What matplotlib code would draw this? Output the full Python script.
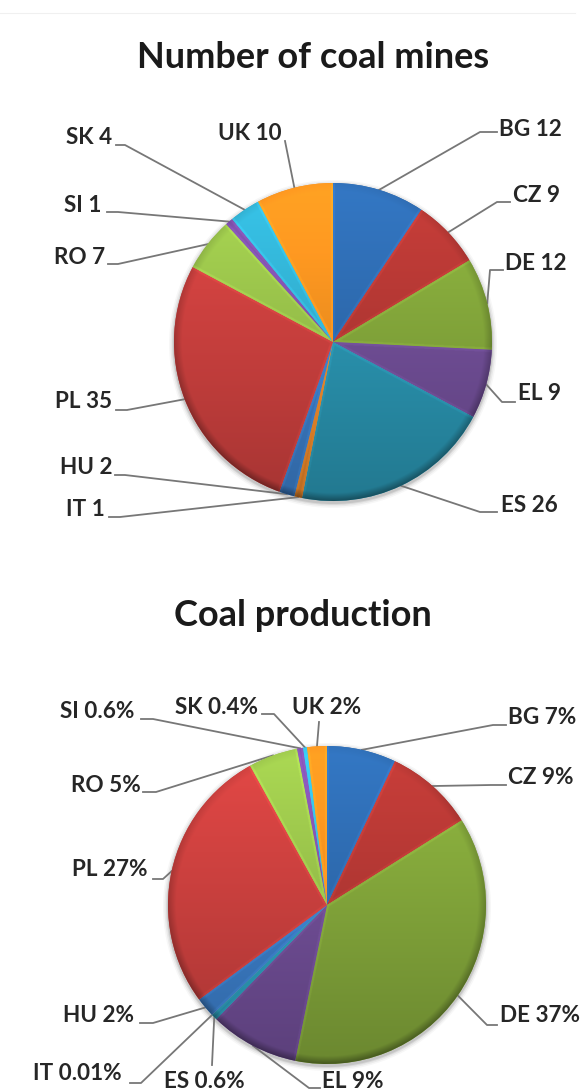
import numpy as np
import matplotlib
matplotlib.use('Agg')
import matplotlib.pyplot as plt
from matplotlib.colors import to_rgb

W, H = 582, 1091

countries = ['BG', 'CZ', 'DE', 'EL', 'ES', 'IT', 'HU', 'PL', 'RO', 'SI', 'SK', 'UK']
mines = [12, 9, 12, 9, 26, 1, 2, 35, 7, 1, 4, 10]
production = [7, 9, 37, 9, 0.6, 0.01, 2, 27, 5, 0.6, 0.4, 2]
mine_labels = ['BG 12', 'CZ 9', 'DE 12', 'EL 9', 'ES 26', 'IT 1', 'HU 2', 'PL 35', 'RO 7', 'SI 1', 'SK 4', 'UK 10']
prod_labels = ['BG 7%', 'CZ 9%', 'DE 37%', 'EL 9%', 'ES 0.6%', 'IT 0.01%', 'HU 2%', 'PL 27%', 'RO 5%', 'SI 0.6%', 'SK 0.4%', 'UK 2%']
colors = ['#2f6db3', '#b83935', '#86aa3c', '#73509a', '#2b97b4', '#e8862a',
          '#3d80cc', '#d04240', '#9cc64c', '#7d4fa8', '#33b4d6', '#f79420']

# label left edge and centre, then the leader's end and knee, in picture pixels (y down)
mine_text = [(499, 129), (513, 196), (505, 263), (518, 394), (501, 505), (66, 510),
             (60, 468), (55, 402), (54, 257), (64, 205), (66, 138), (218, 133)]
mine_lead = [((497, 132), (480, 132)), ((510, 202), (497, 202)), ((503, 270), (490, 270)),
             ((515, 402), (502, 402)), ((497, 512), (480, 512)), ((109, 517), (120, 517)),
             ((115, 475), (125, 475)), ((116, 410), (127, 410)), ((108, 264), (118, 264)),
             ((107, 212), (118, 212)), ((116, 145), (125, 145)), ((285, 141), (285, 141))]
prod_text = [(508, 717), (508, 777), (500, 1016), (322, 1082), (164, 1082), (33, 1074),
             (63, 1015), (72, 870), (71, 785), (60, 712), (175, 707), (292, 707)]
prod_lead = [((506, 725), (493, 725)), ((506, 785), (491, 785)), ((497, 1025), (487, 1025)),
             ((320, 1088), (309, 1088)), ((212, 1065), (212, 1065)), ((130, 1083), (141, 1083)),
             ((140, 1023), (153, 1023)), ((153, 879), (163, 879)), ((143, 792), (156, 792)),
             ((141, 719), (153, 719)), ((262, 714), (274, 714)), ((319, 722), (319, 722))]

plt.rcParams['font.family'] = ['Lato', 'DejaVu Sans']
fig = plt.figure(figsize=(W / 100, H / 100), dpi=100)
ax = fig.add_axes([0, 0, 1, 1])


def slice_image(color, r_grid, a_grid, y_grid, a0, a1):
    # vertical light falloff, a bevel along the slice edges and a dark outer rim
    base = np.array(to_rgb(color))
    shade = 1.1 - 0.3 * (y_grid + 1) / 2
    to_edge = r_grid * np.sin(np.clip(np.minimum(a_grid - a0, a1 - a_grid), 0, np.pi / 2))
    shade = np.where(to_edge < 0.014, shade * 1.07, shade)
    rim = np.clip((r_grid - 0.95) / 0.05, 0, 1)
    shade = shade * (1 - rim * (0.05 + 0.3 * (y_grid + 1) / 2))
    return np.clip(base[None, None, :] * shade[:, :, None], 0, 1)


def draw(cx, cy, r, values, labels, text_pos, leads):
    cy_up = H - cy
    # soft shadow under the disc
    for grow, alpha in [(5, 0.03), (3.5, 0.05), (2, 0.07), (1, 0.09)]:
        ax.add_patch(plt.Circle((cx, cy_up - 2), r + grow, color='black', alpha=alpha, lw=0, zorder=1))
    wedges, _ = ax.pie(values, colors=colors, startangle=90, counterclock=False,
                       center=(cx, cy_up), radius=r, frame=True, normalize=True,
                       wedgeprops=dict(linewidth=0, zorder=2))
    vals = np.array(values, dtype=float)
    ends = np.cumsum(vals) / vals.sum() * 2 * np.pi
    starts = np.concatenate([[0], ends[:-1]])
    yy, xx = np.mgrid[-1:1:640j, -1:1:640j]
    rr = np.hypot(xx, yy)
    aa = np.arctan2(xx, -yy) % (2 * np.pi)
    for i, wedge in enumerate(wedges):
        im = ax.imshow(slice_image(colors[i], rr, aa, yy, starts[i], ends[i]),
                       extent=(cx - r, cx + r, cy_up - r, cy_up + r), origin='upper',
                       zorder=3, interpolation='bilinear', aspect='auto')
        im.set_clip_path(wedge)
        # leader from the middle of the slice's arc
        mid = (starts[i] + ends[i]) / 2
        ex, ey = cx + r * np.sin(mid), cy_up + r * np.cos(mid)
        end, knee = leads[i]
        ax.plot([ex, knee[0], end[0]], [ey, H - knee[1], H - end[1]], color='#777777', lw=1.3, zorder=1.5)
        ax.text(text_pos[i][0], H - text_pos[i][1], labels[i], fontsize=16.2, fontweight='bold',
                color='#262626', ha='left', va='center', zorder=5)


draw(333, 342, 159, mines, mine_labels, mine_text, mine_lead)
draw(327, 905, 159, production, prod_labels, prod_text, prod_lead)

ax.set_xlim(0, W)
ax.set_ylim(0, H)
ax.axis('off')
ax.plot([0, 575], [H - 13, H - 13], color='#f0f0f0', lw=0.8)
ax.text(313, H - 58, 'Number of coal mines', fontsize=26, fontweight='bold', ha='center', va='center', color='#1a1a1a')
ax.text(303, H - 616, 'Coal production', fontsize=26, fontweight='bold', ha='center', va='center', color='#1a1a1a')

fig.savefig('out.png', dpi=100)
